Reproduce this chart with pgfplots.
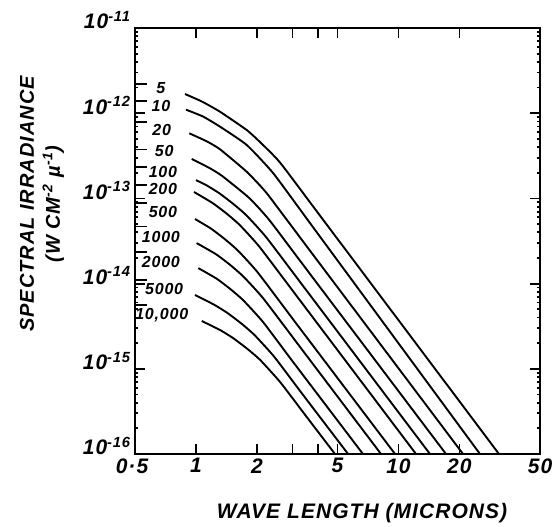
\documentclass[border=0pt]{standalone}
\usepackage{fontspec}
\setmainfont{Liberation Sans}
\newfontfamily\hand[LetterSpace=5]{Liberation Sans}
\usepackage{pgfplots}
\pgfplotsset{compat=1.18}
\newcommand{\curvelab}[4]{%
  \draw[line width=1.8pt] (rel axis cs:0,#1) -- (rel axis cs:0.03,#1);
  \node[font=\hand\bfseries\itshape\fontsize{16}{18}\selectfont] at (rel axis cs:#3,#2) {#4};}
\begin{document}
\begin{tikzpicture}
\begin{axis}[
  width=405pt, height=426pt, scale only axis,
  xmode=log, ymode=log,
  xmin=0.5, xmax=50, ymin=1e-16, ymax=1e-11,
  xtick={0.5,1,2,3,4,5,10,20,50},
  xticklabels={\hspace*{-6pt}0·5,1,2,,,5,10,20,50},
  ytick={1e-16,1e-15,1e-14,1e-13,1e-12,1e-11},
  yticklabels={10\textsuperscript{-16},10\textsuperscript{-15},10\textsuperscript{-14},10\textsuperscript{-13},10\textsuperscript{-12},10\textsuperscript{-11}},
  minor xtick={}, minor ytick={},
  tick align=inside,
  major tick length=10pt,
  tick style={black, line width=1.8pt},
  axis line style={line width=2pt},
  xtick pos=both, ytick pos=both,
  xticklabel style={font=\hand\bfseries\itshape\fontsize{21}{23}\selectfont, yshift=-1pt},
  yticklabel style={font=\hand\bfseries\itshape\fontsize{21}{23}\selectfont, yshift=8pt, xshift=-1pt},
  every axis plot post/.append style={black, solid, mark=none, line width=1.9pt, smooth, tension=0.3},
]
% 5
\addplot coordinates {(0.883,1.68e-12) (1.071,1.37e-12) (1.315,1.04e-12) (1.781,6.35e-13) (2.071,4.59e-13) (2.600,2.64e-13) (4.10,6.27e-14) (31.37,1e-16)};
% 10
\addplot coordinates {(0.893,1.10e-12) (1.084,9.14e-13) (1.315,6.95e-13) (1.781,4.24e-13) (2.410,1.97e-13) (3.80,4.54e-14) (25.27,1e-16)};
% 20
\addplot coordinates {(0.927,5.81e-13) (1.134,4.66e-13) (1.315,3.77e-13) (1.787,2.04e-13) (2.243,1.14e-13) (3.535,2.71e-14) (20.84,1e-16)};
% 50
\addplot coordinates {(0.953,2.90e-13) (1.164,2.28e-13) (1.349,1.83e-13) (1.834,1.01e-13) (2.303,5.57e-14) (3.63,1.33e-14) (17.17,1e-16)};
% 100
\addplot coordinates {(1.000,1.64e-13) (1.125,1.43e-13) (1.304,1.15e-13) (1.529,8.61e-14) (1.773,6.35e-14) (2.225,3.49e-14) (3.51,8.34e-15) (14.31,1e-16)};
% 200
\addplot coordinates {(0.978,1.19e-13) (1.208,8.83e-14) (1.417,6.64e-14) (1.643,4.89e-14) (2.062,2.69e-14) (3.25,6.44e-15) (12.21,1e-16)};
% 500
\addplot coordinates {(0.989,5.73e-14) (1.184,4.44e-14) (1.388,3.33e-14) (1.609,2.45e-14) (2.020,1.35e-14) (3.18,3.23e-15) (9.62,1e-16)};
% 1000
\addplot coordinates {(1.008,2.99e-14) (1.257,2.21e-14) (1.474,1.66e-14) (1.709,1.22e-14) (2.146,6.74e-15) (3.38,1.62e-15) (8.20,1e-16)};
% 2000
\addplot coordinates {(1.027,1.52e-14) (1.260,1.15e-14) (1.477,8.65e-15) (1.713,6.37e-15) (2.151,3.51e-15) (3.02,1.20e-15) (6.68,1e-16)};
% 5000
\addplot coordinates {(0.989,7.35e-15) (1.229,5.66e-15) (1.425,4.55e-15) (1.671,3.42e-15) (1.937,2.52e-15) (2.432,1.39e-15) (3.42,4.76e-16) (5.64,1e-16)};
% 10000
\addplot coordinates {(1.068,3.64e-15) (1.317,2.85e-15) (1.527,2.29e-15) (1.791,1.72e-15) (2.076,1.27e-15) (2.606,6.98e-16) (3.46,2.88e-16) (4.86,1e-16)};

% curve labels with leader lines
\curvelab{0.869}{0.859}{0.064}{5}
\curvelab{0.829}{0.817}{0.064}{10}
\curvelab{0.780}{0.761}{0.066}{20}
\curvelab{0.715}{0.711}{0.072}{50}
\curvelab{0.674}{0.662}{0.069}{100}
\curvelab{0.632}{0.622}{0.069}{200}
\curvelab{0.589}{0.568}{0.069}{500}
\curvelab{0.534}{0.509}{0.064}{1000}
\curvelab{0.475}{0.451}{0.064}{2000}
\curvelab{0.408}{0.387}{0.072}{5000}
\curvelab{0.350}{0.326}{0.066}{10,000}
\end{axis}
% axis titles
\node[font=\hand\bfseries\itshape\fontsize{21}{24}\selectfont] at ([xshift=227pt,yshift=-59pt]current axis.south west) {WAVE LENGTH (MICRONS)};
\node[rotate=90, align=center, font=\hand\bfseries\itshape\fontsize{20}{26}\selectfont] at ([xshift=-93pt,yshift=250pt]current axis.south west) {SPECTRAL IRRADIANCE\\(W CM\textsuperscript{-2} µ\textsuperscript{-1})};
\pgfresetboundingbox
\path ([xshift=-135pt,yshift=-73pt]current axis.south west) rectangle ([xshift=15pt,yshift=28pt]current axis.north east);
\end{tikzpicture}
\end{document}
